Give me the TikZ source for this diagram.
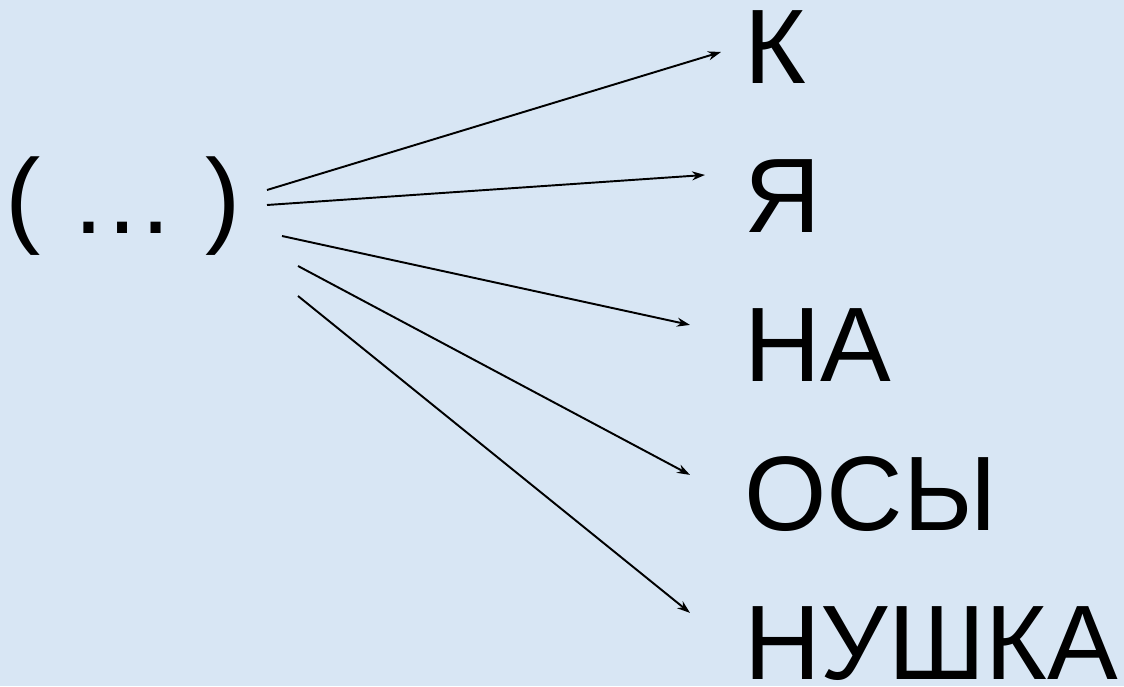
\documentclass[tikz,border=0pt]{standalone}
\usepackage{fontspec}
\setmainfont{Liberation Sans}
\usetikzlibrary{positioning,arrows.meta}
\definecolor{SlideBlue}{RGB}{216,230,244}

\begin{document}
\begin{tikzpicture}[
x=0.02cm,y=0.02cm,
node distance=2.98cm,
word/.style={inner sep=0pt,font=\fontsize{60.3}{72}\selectfont},
arrow/.style={-{Stealth[length=2.6mm,width=1.8mm]},line width=1.1pt}
]
\fill[SlideBlue] (0,0) rectangle (1124,686);
\node[word,anchor=base west] (src) at (5,452) {( … )};
\node[word,anchor=base west] (k) at (744,602) {К};
\node[word,below=of k.base west,anchor=base west] (ya) {Я};
\node[word,below=of ya.base west,anchor=base west] (na) {НА};
\node[word,below=of na.base west,anchor=base west] (osy) {ОСЫ};
\node[word,below=of osy.base west,anchor=base west] (nushka) {НУШКА};
\draw[arrow] ([shift={(262,44)}]src.base west) -- ([shift={(-23,32)}]k.base west);
\draw[arrow] ([shift={(262,29)}]src.base west) -- ([shift={(-39,58)}]ya.base west);
\draw[arrow] ([shift={(277,-2)}]src.base west) -- ([shift={(-54,57)}]na.base west);
\draw[arrow] ([shift={(293,-32)}]src.base west) -- ([shift={(-54,56)}]osy.base west);
\draw[arrow] ([shift={(293,-62)}]src.base west) -- ([shift={(-54,67)}]nushka.base west);
\end{tikzpicture}
\end{document}
